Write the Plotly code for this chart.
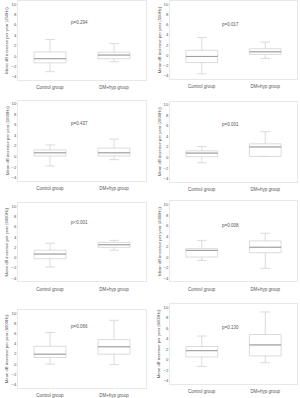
import plotly.graph_objects as go

freqs = ["250Hz", "500Hz", "1000Hz", "2000Hz", "3000Hz", "4000Hz", "6000Hz", "8000Hz"]
p_values = ["p=0.294", "p=0.017", "p=0.437", "p=0.001", "p<0.001", "p=0.008", "p=0.066", "p=0.130"]
groups = ["Control group", "DM+hyp group"]
y_ticks = [-4, -2, 0, 2, 4, 6, 8, 10]

ctrl_lower = [-3.0, -3.6, -1.8, -1.0, -1.8, -0.6, 0.0, -1.3]
ctrl_q1 = [-1.3, -1.4, 0.1, 0.15, -0.2, 0.04, 1.3, 0.5]
ctrl_med = [-0.5, -0.2, 0.7, 0.84, 0.7, 1.3, 1.95, 1.7]
ctrl_q3 = [0.8, 1.0, 1.25, 1.26, 1.45, 1.64, 3.5, 2.5]
ctrl_upper = [3.2, 3.5, 2.2, 2.1, 2.8, 3.2, 6.2, 4.5]

dm_lower = [-1.1, -0.6, -0.6, 0.2, 1.45, -2.1, -0.1, -0.6]
dm_q1 = [-0.5, 0.2, 0.1, 0.2, 2.0, 0.84, 1.95, 0.7]
dm_med = [0.2, 0.7, 0.7, 2.0, 2.5, 1.9, 3.4, 2.8]
dm_q3 = [0.75, 1.3, 1.6, 2.6, 2.97, 3.1, 4.8, 4.8]
dm_upper = [2.4, 2.6, 3.3, 4.9, 3.35, 4.55, 8.6, 9.1]

p_y = [6.4, 6.1, 6.3, 6.35, 6.8, 6.1, 7.3, 6.2]

W, H = 300, 398
# panel geometry in pixels: x0, x1, top, bottom
panels = [
    (18, 146, 0, 80), (170, 297, 0, 79),
    (18, 146, 101, 182), (170, 297, 102, 183),
    (18, 146, 204.5, 284), (170, 297, 203, 284),
    (18, 146, 313, 391.5), (170, 297, 307, 387.5),
]

line_col = "#d2d2d2"
med_col = "#9a9a9a"
text_col = "#555555"
frame_col = "#e8e8e8"
font_fam = "Arial, Liberation Sans, sans-serif"
box_w = 0.5

fig = go.Figure()
layout = dict(
    width=W, height=H, margin=dict(l=0, r=0, t=0, b=0),
    paper_bgcolor="white", plot_bgcolor="white", showlegend=False,
    font=dict(family=font_fam, size=4.5, color=text_col),
)
annotations = []
for i in range(8):
    xa = "x" if i == 0 else f"x{i+1}"
    ya = "y" if i == 0 else f"y{i+1}"
    key_x = "xaxis" if i == 0 else f"xaxis{i+1}"
    key_y = "yaxis" if i == 0 else f"yaxis{i+1}"
    x0, x1, top, bot = panels[i]
    fig.add_trace(go.Box(
        x=[0, 1],
        q1=[ctrl_q1[i], dm_q1[i]],
        median=[ctrl_med[i], dm_med[i]],
        q3=[ctrl_q3[i], dm_q3[i]],
        lowerfence=[ctrl_lower[i], dm_lower[i]],
        upperfence=[ctrl_upper[i], dm_upper[i]],
        width=box_w, whiskerwidth=0.3,
        fillcolor="white", line=dict(color=line_col, width=0.8),
        xaxis=xa, yaxis=ya, hoverinfo="skip",
    ))
    for j, m in enumerate([ctrl_med[i], dm_med[i]]):
        fig.add_trace(go.Scatter(
            x=[j - box_w / 2, j + box_w / 2], y=[m, m], mode="lines",
            line=dict(color=med_col, width=1), xaxis=xa, yaxis=ya, hoverinfo="skip",
        ))
    layout[key_x] = dict(
        domain=[x0 / W, x1 / W], range=[-0.5, 1.5], anchor=ya,
        tickvals=[0, 1], ticktext=groups, ticks="outside", ticklen=3, tickcolor="white",
        showline=True, linecolor=frame_col, linewidth=0.8, mirror=True,
        showgrid=False, zeroline=False,
        tickfont=dict(family=font_fam, size=4.5, color=text_col),
    )
    layout[key_y] = dict(
        domain=[max(0, 1 - bot / H), min(1, 1 - top / H)], range=[-4.6, 10.6], anchor=xa,
        tickvals=y_ticks, ticks="", showline=True, linecolor=frame_col, linewidth=0.8,
        mirror=True, showgrid=False, zeroline=False,
        tickfont=dict(family=font_fam, size=4.2, color=text_col),
        title=dict(text=f"Mean dB increase per year ({freqs[i]})",
                   font=dict(family=font_fam, size=4.2, color=text_col), standoff=2),
    )
    annotations.append(dict(
        x=0.46, y=p_y[i], xref=xa, yref=ya, text=p_values[i], showarrow=False,
        font=dict(family=font_fam, size=4.5, color=text_col),
    ))
layout["annotations"] = annotations
fig.update_layout(**layout)
fig.write_html("out.html")
